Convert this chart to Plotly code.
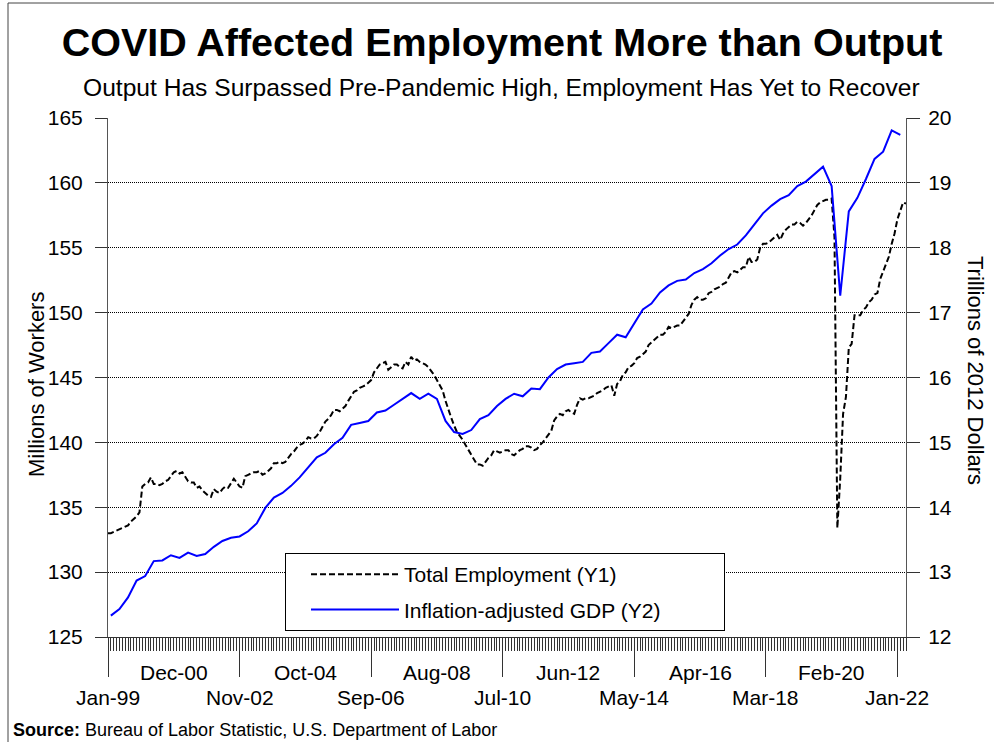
import plotly.graph_objects as go

# ---------------- data ----------------
# Total employment (millions), monthly Jan-1999 .. Apr-2022
emp_1999 = [133.0, 133.0, 133.1, 133.2, 133.3, 133.4, 133.5, 133.6, 133.9, 134.1, 134.3, 134.6]
emp_2000 = [136.6, 136.8, 136.9, 137.3, 136.8, 136.8, 136.7, 136.8, 137.0, 137.1, 137.4, 137.7]
emp_2001 = [137.8, 137.6, 137.7, 137.3, 137.0, 136.9, 136.9, 136.5, 136.6, 136.3, 136.1, 135.9]
emp_2002 = [135.8, 136.4, 136.2, 136.1, 136.4, 136.6, 136.5, 136.9, 137.2, 136.9, 136.6, 136.5]
emp_2003 = [137.4, 137.5, 137.6, 137.7, 137.7, 137.8, 137.5, 137.6, 137.8, 138.0, 138.4, 138.4]
emp_2004 = [138.5, 138.4, 138.5, 138.8, 139.1, 139.3, 139.6, 139.8, 139.9, 140.1, 140.4, 140.3]
emp_2005 = [140.3, 140.5, 140.8, 141.2, 141.6, 141.8, 142.1, 142.5, 142.5, 142.4, 142.6, 142.8]
emp_2006 = [143.2, 143.6, 143.9, 144.0, 144.2, 144.3, 144.4, 144.6, 144.8, 145.4, 145.7, 146.0]
emp_2007 = [146.1, 146.2, 145.6, 145.8, 146.0, 146.0, 145.8, 145.7, 146.2, 146.0, 146.6, 146.3]
emp_2008 = [146.4, 146.2, 146.1, 146.0, 145.8, 145.5, 145.2, 144.8, 144.4, 144.0, 143.2, 142.5]
emp_2009 = [141.9, 141.3, 140.8, 140.5, 140.2, 139.8, 139.4, 139.0, 138.6, 138.3, 138.3, 138.2]
emp_2010 = [138.5, 138.8, 139.0, 139.4, 139.3, 139.2, 139.3, 139.4, 139.4, 139.1, 139.0, 139.2]
emp_2011 = [139.4, 139.5, 139.7, 139.7, 139.6, 139.4, 139.5, 139.8, 140.0, 140.3, 140.6, 140.9]
emp_2012 = [141.7, 142.0, 142.2, 142.1, 142.4, 142.5, 142.3, 142.2, 142.9, 143.4, 143.3, 143.4]
emp_2013 = [143.4, 143.5, 143.6, 143.8, 143.9, 144.0, 144.2, 144.3, 144.4, 143.6, 144.5, 144.7]
emp_2014 = [145.2, 145.4, 145.8, 145.9, 146.1, 146.5, 146.6, 146.8, 147.0, 147.5, 147.7, 147.9]
emp_2015 = [148.1, 148.3, 148.3, 148.5, 148.9, 148.8, 148.9, 149.0, 149.0, 149.3, 149.6, 149.9]
emp_2016 = [150.6, 151.0, 151.2, 151.0, 151.0, 151.1, 151.5, 151.6, 151.8, 151.9, 152.0, 152.2]
emp_2017 = [152.3, 152.7, 153.1, 153.2, 153.1, 153.3, 153.5, 153.5, 154.3, 153.9, 153.9, 154.1]
emp_2018 = [155.0, 155.3, 155.3, 155.4, 155.6, 155.8, 156.0, 155.6, 156.1, 156.4, 156.6, 156.8]
emp_2019 = [156.8, 157.0, 156.9, 156.7, 156.9, 157.2, 157.5, 157.9, 158.3, 158.5, 158.6, 158.7]
emp_2020 = [158.7, 158.8, 155.8, 133.4, 137.2, 142.2, 143.5, 147.3, 147.6, 149.8, 149.8, 149.8]
emp_2021 = [150.2, 150.4, 150.8, 151.0, 151.4, 151.5, 152.6, 153.2, 153.8, 154.3, 155.3, 156.1]
emp_2022 = [157.2, 157.9, 158.5, 158.4]

employment = (emp_1999 + emp_2000 + emp_2001 + emp_2002 + emp_2003 + emp_2004 + emp_2005
              + emp_2006 + emp_2007 + emp_2008 + emp_2009 + emp_2010 + emp_2011 + emp_2012
              + emp_2013 + emp_2014 + emp_2015 + emp_2016 + emp_2017 + emp_2018 + emp_2019
              + emp_2020 + emp_2021 + emp_2022)

# Real GDP (trillions of 2012 dollars), quarterly 1999Q1 .. 2022Q1
gdp = [
    12.33, 12.43, 12.61, 12.87,   # 1999
    12.94, 13.17, 13.18, 13.26,   # 2000
    13.22, 13.30, 13.25, 13.28,   # 2001
    13.39, 13.48, 13.53, 13.55,   # 2002
    13.63, 13.75, 13.99, 14.15,   # 2003
    14.22, 14.33, 14.46, 14.61,   # 2004
    14.77, 14.84, 14.97, 15.07,   # 2005
    15.27, 15.30, 15.33, 15.46,   # 2006
    15.49, 15.58, 15.67, 15.76,   # 2007
    15.67, 15.75, 15.67, 15.33,   # 2008
    15.16, 15.13, 15.19, 15.36,   # 2009
    15.42, 15.56, 15.67, 15.75,   # 2010
    15.71, 15.83, 15.82, 16.00,   # 2011
    16.13, 16.20, 16.22, 16.24,   # 2012
    16.38, 16.40, 16.53, 16.66,   # 2013
    16.62, 16.84, 17.05, 17.14,   # 2014
    17.31, 17.42, 17.49, 17.51,   # 2015
    17.61, 17.67, 17.76, 17.88,   # 2016
    17.98, 18.05, 18.19, 18.36,   # 2017
    18.53, 18.65, 18.75, 18.81,   # 2018
    18.95, 19.02, 19.14, 19.25,   # 2019
    18.95, 17.26, 18.56, 18.77,   # 2020
    19.06, 19.37, 19.48, 19.81,   # 2021
    19.74,                        # 2022
]

month_names = ["Jan", "Feb", "Mar", "Apr", "May", "Jun",
               "Jul", "Aug", "Sep", "Oct", "Nov", "Dec"]
month_labels = [f"{month_names[i % 12]}-{(1999 + i // 12) % 100:02d}"
                for i in range(len(employment))]

emp_x = list(range(len(employment)))
gdp_x = [1 + 3 * q for q in range(len(gdp))]   # middle month of each quarter

label_every = 23
tick_every = 46
label_idx = list(range(0, len(employment), label_every))
major_ticks = list(range(0, len(employment), tick_every))

title_text = "COVID Affected Employment More than Output"
subtitle_text = "Output Has Surpassed Pre-Pandemic High, Employment Has Yet to Recover"
y1_title = "Millions of Workers"
y2_title = "Trillions of 2012 Dollars"
source_text = "<b>Source:</b> Bureau of Labor Statistic, U.S. Department of Labor"
emp_name = "Total Employment (Y1)"
gdp_name = "Inflation-adjusted GDP (Y2)"

FONT = "Liberation Sans, Arial, sans-serif"
PAD = "\u00a0" * 10   # widens the legend box to the reference's width

# ---------------- figure ----------------
fig = go.Figure()
fig.add_trace(go.Scatter(
    x=emp_x, y=employment, mode="lines", name=emp_name,
    line=dict(color="black", width=2, dash="6px,3px"), legendgroup="a",
    yaxis="y",
))
fig.add_trace(go.Scatter(
    x=gdp_x, y=gdp, mode="lines", name=gdp_name + PAD,
    line=dict(color="#0000ff", width=2), legendgroup="b",
    yaxis="y2",
))

annotations = []
for k, i in enumerate(label_idx):
    upper = (k % 2 == 1)
    annotations.append(dict(
        x=i, xref="x", y=(-0.0688 if upper else -0.1175), yref="paper",
        text=month_labels[i], showarrow=False, xanchor="center", yanchor="middle",
        font=dict(size=21, color="black", family=FONT),
    ))

annotations += [
    dict(x=0.493, y=1.0597, xref="paper", yref="paper", text=subtitle_text,
         showarrow=False, xanchor="center", yanchor="middle",
         font=dict(size=24.6, color="black", family=FONT)),
    dict(x=-0.089, y=0.4875, xref="paper", yref="paper", text=y1_title,
         showarrow=False, textangle=-90, xanchor="center", yanchor="middle",
         font=dict(size=22, color="black", family=FONT)),
    dict(x=1.0865, y=0.5145, xref="paper", yref="paper", text=y2_title,
         showarrow=False, textangle=90, xanchor="center", yanchor="middle",
         font=dict(size=22, color="black", family=FONT)),
    dict(x=-0.1216, y=-0.179, xref="paper", yref="paper", text=source_text,
         showarrow=False, xanchor="left", yanchor="middle",
         font=dict(size=18, color="black", family=FONT)),
]

fig.update_layout(
    width=994, height=742,
    margin=dict(l=108, r=88, t=118, b=105),
    paper_bgcolor="white", plot_bgcolor="white",
    font=dict(family=FONT, color="black"),
    title=dict(text=f"<b>{title_text}</b>", x=502 / 994, xref="container",
               y=1 - 42 / 742, yref="container", xanchor="center", yanchor="middle",
               font=dict(size=39.5, color="black", family=FONT)),
    showlegend=True,
    legend=dict(
        x=(285 - 108) / 798, y=(637 - 553) / 519, xanchor="left", yanchor="top",
        bgcolor="white", bordercolor="black", borderwidth=1,
        font=dict(size=21, color="black", family=FONT),
        itemwidth=88, tracegroupgap=5, indentation=20,
    ),
    xaxis=dict(
        range=[0, len(employment) - 1], showgrid=False, zeroline=False,
        showline=True, linecolor="#333333", linewidth=1,
        tickmode="array", tickvals=major_ticks, showticklabels=False,
        ticks="outside", ticklen=39, tickcolor="#333333", tickwidth=1,
        minor=dict(tickmode="linear", tick0=0, dtick=1, ticks="outside",
                   ticklen=13, tickcolor="#333333", tickwidth=1, showgrid=False),
    ),
    yaxis=dict(
        range=[125, 165], tick0=125, dtick=5, showgrid=True,
        gridcolor="black", gridwidth=1, griddash="1px,1px", zeroline=False,
        showline=True, linecolor="#555555", linewidth=1,
        ticks="outside", ticklen=12, tickcolor="#333333",
        tickfont=dict(size=21, color="black", family=FONT), ticklabelstandoff=8,
    ),
    yaxis2=dict(
        range=[12, 20], tick0=12, dtick=1, overlaying="y", side="right",
        showgrid=False, zeroline=False,
        showline=True, linecolor="#555555", linewidth=1,
        ticks="outside", ticklen=13, tickcolor="#333333",
        tickfont=dict(size=21, color="black", family=FONT), ticklabelstandoff=4,
    ),
    annotations=annotations,
    shapes=[dict(type="rect", xref="paper", yref="paper",
                 x0=(8 - 108) / 798, x1=(1010 - 108) / 798,
                 y0=(637 - 760) / 519, y1=(637 - 3) / 519,
                 line=dict(color="#444444", width=1), fillcolor="rgba(0,0,0,0)",
                 layer="below")],
)

fig.write_html(
    "out.html",
    config={"displayModeBar": False},
    post_script="document.body.style.margin='0';document.body.style.overflow='hidden';",
)
